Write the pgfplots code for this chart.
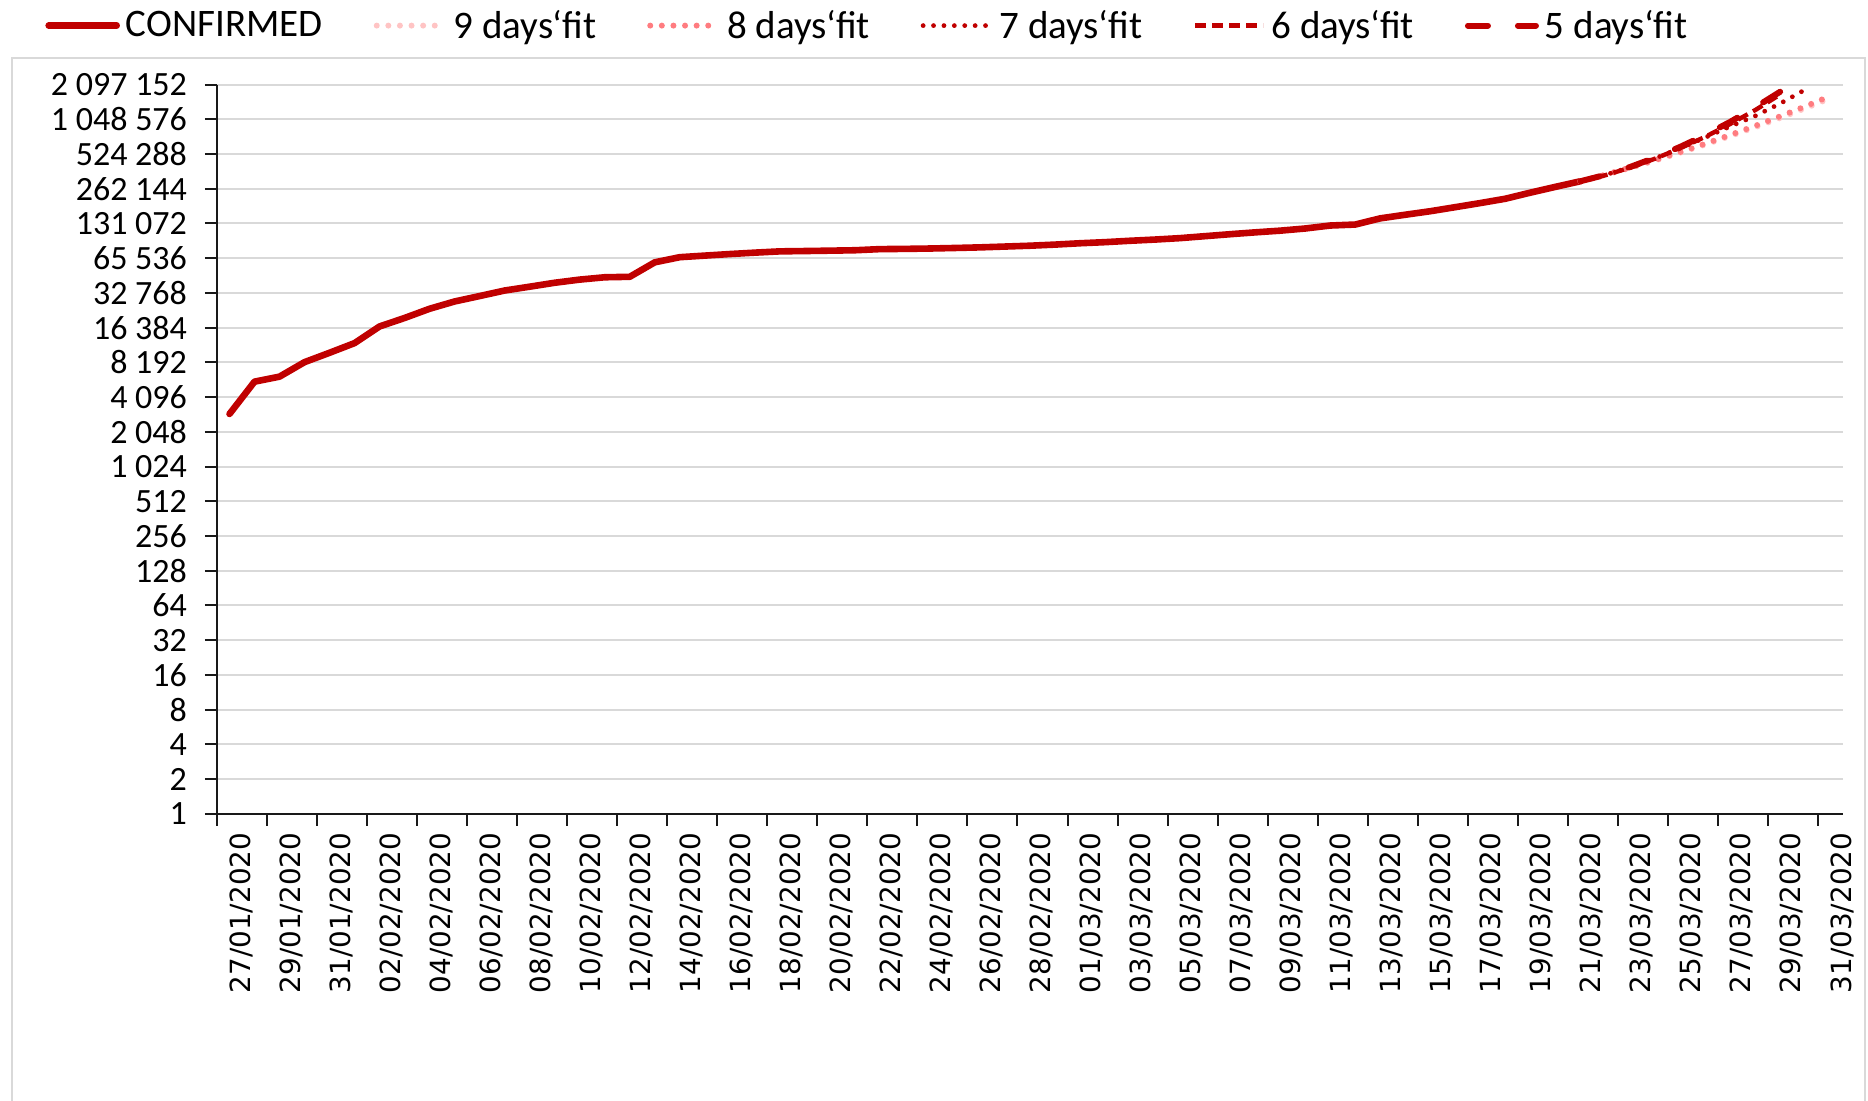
\documentclass[border=0pt]{standalone}
\usepackage{fontspec}
\setmainfont{Carlito}
\newfontfamily\dejavu{DejaVu Sans}
\usepackage{pgfplots}
\pgfplotsset{compat=1.18}
\definecolor{cred}{HTML}{C00000}
\definecolor{fitnine}{HTML}{FFC4C4}
\definecolor{fiteight}{HTML}{FF7C80}
\definecolor{gridgray}{HTML}{D9D9D9}
\definecolor{bordergray}{HTML}{D9D9D9}
\begin{document}
\begin{tikzpicture}
\useasboundingbox (0,0) rectangle (934pt,550pt);
\draw[bordergray, line width=1pt] (6pt,-5pt) -- (6pt,521pt) -- (932.5pt,521pt) -- (932.5pt,-5pt);
\begin{axis}[
  at={(108.5pt,143.1pt)}, anchor=south west,
  scale only axis, width=813pt, height=364.6pt,
  xmin=-0.5, xmax=64.5,
  ymode=log, log basis y=2, ymin=1, ymax=2097152,
  axis x line*=bottom, axis y line*=left,
  axis line style={black!90, line width=1pt},
  tick align=outside,
  major tick length=6pt,
  tick style={black!90, line width=1pt},
  ytick={1,2,4,8,16,32,64,128,256,512,1024,2048,4096,8192,16384,32768,65536,131072,262144,524288,1048576,2097152},
  yticklabels={1,2,4,8,16,32,64,128,256,512,1 024,2 048,4 096,8 192,16 384,32 768,65 536,131 072,262 144,524 288,1 048 576,2 097 152},
  ymajorgrids=true,
  grid style={gridgray, line width=1pt},
  xtick={-0.5,1.5,...,63.5},
  xticklabels={27/01/2020,29/01/2020,31/01/2020,02/02/2020,04/02/2020,06/02/2020,08/02/2020,10/02/2020,12/02/2020,14/02/2020,16/02/2020,18/02/2020,20/02/2020,22/02/2020,24/02/2020,26/02/2020,28/02/2020,01/03/2020,03/03/2020,05/03/2020,07/03/2020,09/03/2020,11/03/2020,13/03/2020,15/03/2020,17/03/2020,19/03/2020,21/03/2020,23/03/2020,25/03/2020,27/03/2020,29/03/2020,31/03/2020},
  xticklabel style={font=\dejavu\fontsize{13.9}{15}\selectfont, xshift=12pt, rotate=90, anchor=east},
  yticklabel style={font=\fontsize{17}{18}\selectfont, xshift=-5.5pt},
  legend columns=6,
  legend image code/.code={\draw[#1] (0pt,0pt) -- (34pt,0pt);},
  legend style={at={(axis description cs:0,1)}, anchor=west, xshift=-86pt, yshift=29.5pt,
    draw=none, fill=none, inner sep=0pt,
    font=\fontsize{19.5}{22}\selectfont,
    nodes={inner sep=3pt},
    /tikz/every even column/.append style={column sep=22.5pt}},
]
\addplot[cred, line width=3.3pt, line join=round, line cap=round] coordinates {
(0,2927)(1,5578)(2,6166)(3,8234)(4,9927)(5,12038)(6,16787)(7,19887)(8,23898)(9,27643)
(10,30802)(11,34395)(12,37129)(13,40160)(14,42769)(15,44811)(16,45229)(17,60381)(18,66909)(19,69052)
(20,71235)(21,73270)(22,75152)(23,75652)(24,76212)(25,76841)(26,78602)(27,78982)(28,79546)(29,80399)
(30,81376)(31,82736)(32,84124)(33,86013)(34,88371)(35,90309)(36,92844)(37,95124)(38,97886)(39,101801)
(40,105847)(41,109821)(42,113590)(43,118620)(44,125875)(45,128352)(46,145205)(47,156101)(48,167454)(49,181574)
(50,197102)(51,214821)(52,242570)(53,272208)(54,304507)};
\addlegendentry{CONFIRMED}
\addplot[fitnine, line width=3pt, line cap=round, dash pattern=on 0pt off 5.8pt] coordinates {
(54,304507)(55,346000)(56,398000)(57,461000)(58,539000)(59,634000)(60,752000)(61,898000)(62,1080000)(63,1310000)(64,1600000)};
\addlegendentry{9 days‘fit}
\addplot[fiteight, line width=3pt, line cap=round, dash pattern=on 0pt off 5.8pt] coordinates {
(54,304507)(55,347110)(56,400660)(57,466020)(58,546200)(59,645450)(60,768660)(61,922380)(62,1116100)(63,1360760)(64,1672970)};
\addlegendentry{8 days‘fit}
\addplot[cred, line width=2.4pt, line cap=round, dash pattern=on 0pt off 5.2pt] coordinates {
(54,304507)(55,345900)(56,402900)(57,482450)(58,589880)(59,731230)(60,912840)(61,1123830)(62,1442320)(63,1903400)};
\addlegendentry{7 days‘fit}
\addplot[cred, line width=2.2pt, dash pattern=on 5.5pt off 3pt] coordinates {
(54,304507)(55,343510)(56,400110)(57,479120)(58,589880)(59,741450)(60,958230)(61,1264360)(62,1727220)};
\addlegendentry{6 days‘fit}
\addplot[cred, line width=3pt, line cap=round, dash pattern=on 10pt off 15pt] coordinates {
(54,304507)(55,345900)(56,405700)(57,489200)(58,606440)(59,767600)(60,998930)(61,1336500)(62,1825700)};
\addlegendentry{5 days‘fit}
\end{axis}
\end{tikzpicture}
\end{document}
